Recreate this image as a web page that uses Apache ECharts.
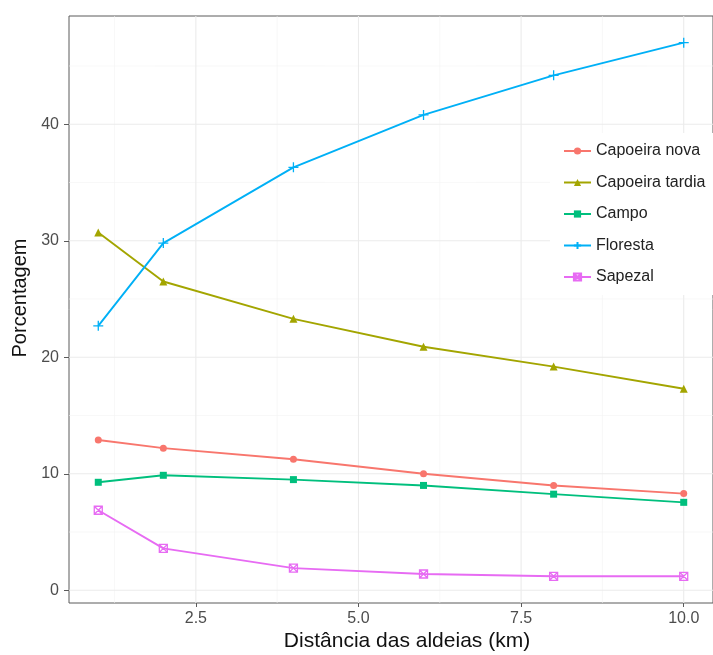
<!DOCTYPE html>
<html>
<head>
<meta charset="utf-8">
<script src="https://cdn.jsdelivr.net/npm/echarts@6/dist/echarts.min.js"></script>
<style>html,body{margin:0;padding:0;background:#fff}#c{width:713px;height:655px}</style>
</head>
<body>
<div id="c"></div>
<script>
const distances = [1, 2, 4, 6, 8, 10];
const seriesNames = ['Capoeira nova', 'Capoeira tardia', 'Campo', 'Floresta', 'Sapezal'];
const capoeiraNova = [12.9, 12.2, 11.25, 10.0, 9.0, 8.3];
const capoeiraTardia = [30.7, 26.5, 23.3, 20.9, 19.2, 17.3];
const campo = [9.27, 9.87, 9.5, 9.0, 8.25, 7.55];
const floresta = [22.7, 29.8, 36.3, 40.8, 44.2, 47.0];
const sapezal = [6.87, 3.6, 1.9, 1.4, 1.2, 1.2];
const xMajorTicks = [2.5, 5.0, 7.5, 10.0];
const xMinorTicks = [1.25, 3.75, 6.25, 8.75];
const yMajorTicks = [0, 10, 20, 30, 40];
const yMinorTicks = [5, 15, 25, 35, 45];

const colors = ['#F8766D', '#A3A500', '#00BF7D', '#00B0F6', '#E76BF3'];
const valuesList = [capoeiraNova, capoeiraTardia, campo, floresta, sapezal];
const symbols = [
  'circle',
  'triangle',
  'rect',
  'path://M5,0 L5,10 M0,5 L10,5',
  'path://M0,0 L10,0 L10,10 L0,10 Z M0,0 L10,10 M10,0 L0,10'
];
const symbolSizes = [7, 8, 7, 10, 8];
const hollow = [false, false, false, true, true];

const xMin = 0.55, xMax = 10.45, yMin = -1.09, yMax = 49.29;

// grid items: [x, y, dir (0 vertical / 1 horizontal), major(1)/minor(0)]
const gridItems = [];
xMinorTicks.forEach(v => gridItems.push([v, 0, 0, 0]));
yMinorTicks.forEach(v => gridItems.push([1, v, 1, 0]));
xMajorTicks.forEach(v => gridItems.push([v, 0, 0, 1]));
yMajorTicks.forEach(v => gridItems.push([1, v, 1, 1]));

const font = 'Liberation Sans, Arial, Helvetica, sans-serif';

const series = [{
  type: 'custom',
  name: '__grid',
  silent: true,
  z: 0,
  data: gridItems,
  encode: { x: 0, y: 1 },
  renderItem: function (params, api) {
    const cs = params.coordSys;
    const pt = api.coord([api.value(0), api.value(1)]);
    const major = api.value(3) === 1;
    const style = { stroke: major ? '#EBEBEB' : '#F4F4F4', lineWidth: major ? 1.1 : 0.6 };
    if (api.value(2) === 0) {
      return { type: 'line', shape: { x1: pt[0], y1: cs.y, x2: pt[0], y2: cs.y + cs.height }, style: style };
    }
    return { type: 'line', shape: { x1: cs.x, y1: pt[1], x2: cs.x + cs.width, y2: pt[1] }, style: style };
  }
}];

seriesNames.forEach((name, i) => {
  series.push({
    type: 'line',
    name: name,
    z: 3,
    data: distances.map((d, j) => [d, valuesList[i][j]]),
    symbol: symbols[i],
    symbolSize: symbolSizes[i],
    showAllSymbol: true,
    lineStyle: { color: colors[i], width: 1.9 },
    itemStyle: hollow[i]
      ? { color: 'rgba(0,0,0,0)', borderColor: colors[i], borderWidth: 1.3 }
      : { color: colors[i], borderWidth: 0 },
    emphasis: { disabled: true },
    animation: false
  });
});

const chart = echarts.init(document.getElementById('c'));
chart.setOption({
  animation: false,
  backgroundColor: '#fff',
  color: colors,
  grid: {
    left: 69, right: -11, top: 16, bottom: 52,
    show: true, borderColor: '#5a5a5a', borderWidth: 1, backgroundColor: '#fff'
  },
  xAxis: {
    type: 'value', min: xMin, max: xMax,
    axisLine: { show: false, onZero: false },
    splitLine: { show: false },
    axisTick: { show: true, length: 4, customValues: xMajorTicks, lineStyle: { color: '#5a5a5a', width: 1 } },
    axisLabel: {
      customValues: xMajorTicks, margin: 8, color: '#4d4d4d', fontSize: 16, fontFamily: font,
      formatter: v => v.toFixed(1)
    }
  },
  yAxis: {
    type: 'value', min: yMin, max: yMax,
    axisLine: { show: false, onZero: false },
    splitLine: { show: false },
    axisTick: { show: true, length: 5, customValues: yMajorTicks, lineStyle: { color: '#5a5a5a', width: 1 } },
    axisLabel: {
      customValues: yMajorTicks, margin: 10, color: '#4d4d4d', fontSize: 16, fontFamily: font,
      formatter: v => String(v)
    }
  },
  legend: {
    data: seriesNames,
    orient: 'vertical',
    left: 550, top: 133,
    padding: [10, 14, 10, 13],
    backgroundColor: '#fff',
    itemWidth: 27, itemHeight: 9, itemGap: 15.5,
    textStyle: { fontSize: 16, color: '#222', fontFamily: font },
    selectedMode: false
  },
  graphic: [
    {
      type: 'text', x: 407, y: 641,
      style: { text: 'Distância das aldeias (km)', font: '21px ' + font, fill: '#111', textAlign: 'center', textVerticalAlign: 'middle' }
    },
    {
      type: 'text', x: 20, y: 298, rotation: Math.PI / 2,
      style: { text: 'Porcentagem', font: '20px ' + font, fill: '#111', textAlign: 'center', textVerticalAlign: 'middle' }
    }
  ],
  series: series
});
</script>
</body>
</html>
